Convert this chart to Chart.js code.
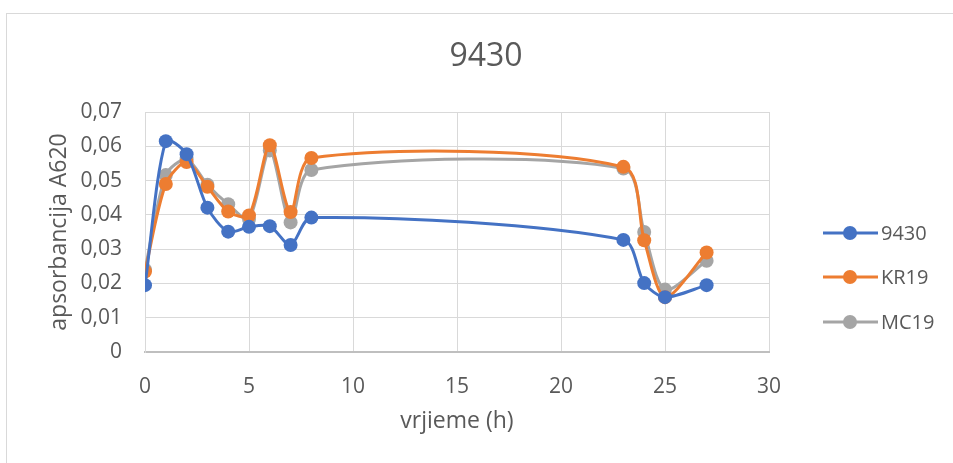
<!DOCTYPE html>
<html lang="hr">
<head>
    <meta charset="UTF-8">
    <title>9430</title>
    <script src="https://cdn.jsdelivr.net/npm/chart.js"></script>
    <style>
        body {
            margin: 0;
            padding: 0;
            background-color: #ffffff;
            overflow: hidden;
        }
        .frame {
            position: absolute;
            left: 6px;
            top: 13px;
            width: 960px;
            height: 470px;
            border: 1px solid #d9d9d9;
        }
        .wrap {
            position: absolute;
            left: 0;
            top: 0;
            width: 953px;
            height: 463px;
        }
    </style>
</head>
<body>
<div class="frame"></div>
<div class="wrap"><canvas id="chart" width="953" height="463"></canvas></div>
<script>
    // vrijeme (h)
    const hours = [0, 1, 2, 3, 4, 5, 6, 7, 8, 23, 24, 25, 27];
    // apsorbancija A620
    const s9430 = [0.0195, 0.0615, 0.0577, 0.0421, 0.0351, 0.0365, 0.0367, 0.0312, 0.0392, 0.0327, 0.0201, 0.0160, 0.0195];
    const kr19 = [0.0235, 0.0490, 0.0554, 0.0482, 0.0410, 0.0398, 0.0603, 0.0408, 0.0566, 0.0540, 0.0326, 0.0160, 0.0290];
    const mc19 = [0.0240, 0.0516, 0.0562, 0.0488, 0.0431, 0.0388, 0.0588, 0.0378, 0.0531, 0.0535, 0.0350, 0.0182, 0.0266];
    const seriesNames = ['9430', 'KR19', 'MC19'];
    const seriesColors = ['#4472C4', '#ED7D31', '#A5A5A5'];
    const chartTitle = '9430';

    const fontFamily = "'Open Sans', sans-serif";
    const textColor = '#595959';

    function toPoints(values) {
        return hours.map((h, i) => ({ x: h, y: values[i] }));
    }

    // naslov centriran na cijelu sliku + legenda s linijom i točkom, kao u Excelu
    const excelDecor = {
        id: 'excelDecor',
        afterDraw(chart) {
            const ctx = chart.ctx;
            ctx.save();
            ctx.fillStyle = textColor;
            ctx.font = "32px " + fontFamily;
            ctx.textAlign = 'center';
            ctx.textBaseline = 'middle';
            ctx.fillText(chartTitle, 486, 57);

            const rows = [233, 277, 322];
            chart.data.datasets.forEach((ds, i) => {
                const y = rows[i];
                ctx.strokeStyle = ds.borderColor;
                ctx.lineWidth = 3;
                ctx.beginPath();
                ctx.moveTo(823, y);
                ctx.lineTo(878, y);
                ctx.stroke();
                ctx.fillStyle = ds.backgroundColor;
                ctx.beginPath();
                ctx.arc(850, y, 7, 0, Math.PI * 2);
                ctx.fill();
                ctx.fillStyle = textColor;
                ctx.font = "20px " + fontFamily;
                ctx.textBaseline = 'middle';
                ctx.textAlign = 'left';
                ctx.fillText(ds.label, 881, y + 1);
            });
            ctx.restore();
        }
    };

    const datasets = [s9430, kr19, mc19].map((vals, i) => ({
        label: seriesNames[i],
        data: toPoints(vals),
        showLine: true,
        borderColor: seriesColors[i],
        backgroundColor: seriesColors[i],
        borderWidth: 3,
        pointRadius: 7,
        pointHoverRadius: 7,
        pointBorderWidth: 0,
        tension: 0.28
    }));

    const ctx = document.getElementById('chart').getContext('2d');
    new Chart(ctx, {
        type: 'scatter',
        data: { datasets },
        options: {
            responsive: false,
            animation: false,
            layout: {
                padding: { left: 46, right: 184, top: 112, bottom: 0 }
            },
            plugins: {
                legend: { display: false },
                tooltip: { enabled: false },
                title: { display: false }
            },
            scales: {
                x: {
                    type: 'linear',
                    min: 0,
                    max: 30,
                    afterFit(scale) { scale.height = 111; },
                    ticks: {
                        stepSize: 5,
                        color: textColor,
                        padding: 22,
                        font: { family: fontFamily, size: 21 }
                    },
                    grid: { color: '#d9d9d9', lineWidth: 1, drawTicks: false },
                    border: { color: '#bfbfbf', width: 2 },
                    title: {
                        display: true,
                        text: 'vrjieme (h)',
                        color: textColor,
                        font: { family: fontFamily, size: 23 },
                        padding: { top: 4, bottom: 28 }
                    }
                },
                y: {
                    min: 0,
                    max: 0.07,
                    afterFit(scale) { scale.width = 99; },
                    ticks: {
                        stepSize: 0.01,
                        color: textColor,
                        padding: 23,
                        font: { family: fontFamily, size: 21 },
                        callback: v => v === 0 ? '0' : v.toFixed(2).replace('.', ',')
                    },
                    grid: { color: '#d9d9d9', lineWidth: 1, drawTicks: false },
                    border: { color: '#d9d9d9', width: 1 },
                    title: {
                        display: true,
                        text: 'apsorbancija A620',
                        color: textColor,
                        font: { family: fontFamily, size: 23 },
                        padding: { top: 0, bottom: 4 }
                    }
                }
            }
        },
        plugins: [excelDecor]
    });
</script>
</body>
</html>
